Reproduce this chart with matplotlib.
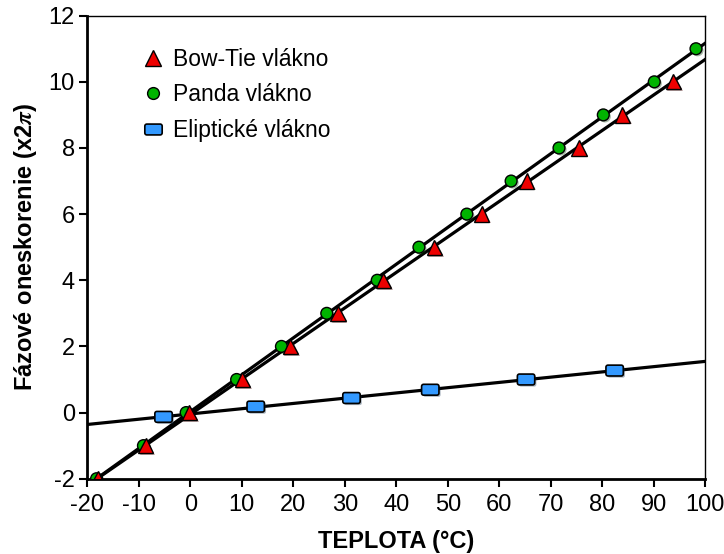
import numpy as np
import matplotlib.pyplot as plt
from matplotlib.path import Path
import matplotlib.patheffects as pe

plt.rcParams['font.family'] = ['Liberation Sans', 'DejaVu Sans']
plt.rcParams['mathtext.fontset'] = 'stix'
plt.rcParams['axes.unicode_minus'] = False

# data
bowtie_t = [-18.0, -8.7, -0.2, 10.1, 19.4, 28.7, 37.5, 47.4, 56.6, 65.3, 75.5, 83.9, 93.8]
bowtie_phi = [-2, -1, 0, 1, 2, 3, 4, 5, 6, 7, 8, 9, 10]

panda_t = [-18.2, -9.1, -0.8, 9.0, 17.7, 26.5, 36.3, 44.4, 53.7, 62.3, 71.6, 80.2, 90.1, 98.2]
panda_phi = [-2, -1, 0, 1, 2, 3, 4, 5, 6, 7, 8, 9, 10, 11]

elip_t = [-5.2, 12.7, 31.3, 46.6, 65.2, 82.4]
elip_phi = [-0.13, 0.18, 0.44, 0.69, 1.0, 1.27]

# rounded rectangle marker
def rounded_rect(w=1.6, h=1.0, r=0.18, n=5):
    pts = []
    corners = [(w/2 - r, h/2 - r, 0), (-w/2 + r, h/2 - r, 90),
               (-w/2 + r, -h/2 + r, 180), (w/2 - r, -h/2 + r, 270)]
    for cx, cy, a0 in corners:
        for a in np.linspace(a0, a0 + 90, n):
            pts.append((cx + r*np.cos(np.radians(a)), cy + r*np.sin(np.radians(a))))
    pts.append(pts[0])
    return Path(pts, closed=True)

rect_marker = rounded_rect()

fig = plt.figure(figsize=(7.24, 5.54), dpi=100)
ax = fig.add_axes([0.1206, 0.1359, 0.8535, 0.8358])

xx = np.array([-20, 100])
shadow = [pe.SimplePatchShadow(offset=(1.2, -1.2), alpha=0.35), pe.Normal()]

for t, p in [(panda_t, panda_phi), (bowtie_t, bowtie_phi), (elip_t, elip_phi)]:
    k = np.polyfit(t, p, 1)
    ax.plot(xx, np.polyval(k, xx), color='black', lw=2.3, zorder=2)

ax.plot(elip_t, elip_phi, linestyle='none', marker=rect_marker, ms=12.5,
        mfc='#3399ff', mec='black', mew=1.2, zorder=3, path_effects=shadow)
ax.plot(panda_t, panda_phi, linestyle='none', marker='o', ms=8.5,
        mfc='#00b400', mec='black', mew=1.0, zorder=3, path_effects=shadow)
ax.plot(bowtie_t, bowtie_phi, linestyle='none', marker='^', ms=11,
        mfc='#ee0000', mec='black', mew=1.0, zorder=4, path_effects=shadow)

# legend entries (proxy artists)
h1, = ax.plot([], [], linestyle='none', marker='^', ms=11, mfc='#ee0000', mec='black', mew=1.0)
h2, = ax.plot([], [], linestyle='none', marker='o', ms=8.5, mfc='#00b400', mec='black', mew=1.0)
h3, = ax.plot([], [], linestyle='none', marker=rect_marker, ms=12.5, mfc='#3399ff', mec='black', mew=1.2)
ax.legend([h1, h2, h3], ['Bow-Tie vlákno', 'Panda vlákno', 'Eliptické vlákno'],
          loc='upper left', bbox_to_anchor=(0.05, 0.975), frameon=False,
          fontsize=16.5, handletextpad=0.3, labelspacing=0.55, handlelength=1.2)

ax.set_xlim(-20, 100)
ax.set_ylim(-2, 12)
ax.set_xticks(np.arange(-20, 101, 10))
ax.set_yticks(np.arange(-2, 13, 2))
ax.tick_params(direction='out', length=6, width=1.5, labelsize=17, colors='black')
ax.tick_params(axis='x', pad=5)
ax.tick_params(axis='y', pad=3)

for s in ['left', 'bottom']:
    ax.spines[s].set_linewidth(2)
for s in ['top', 'right']:
    ax.spines[s].set_linewidth(1)

ax.set_xlabel('TEPLOTA (°C)', fontsize=17, fontweight='bold', labelpad=10)
ax.set_ylabel(r'Fázové oneskorenie (x2$\boldsymbol{\pi}$)', fontsize=17,
              fontweight='bold', labelpad=7)

fig.savefig('out.png', dpi=100)
